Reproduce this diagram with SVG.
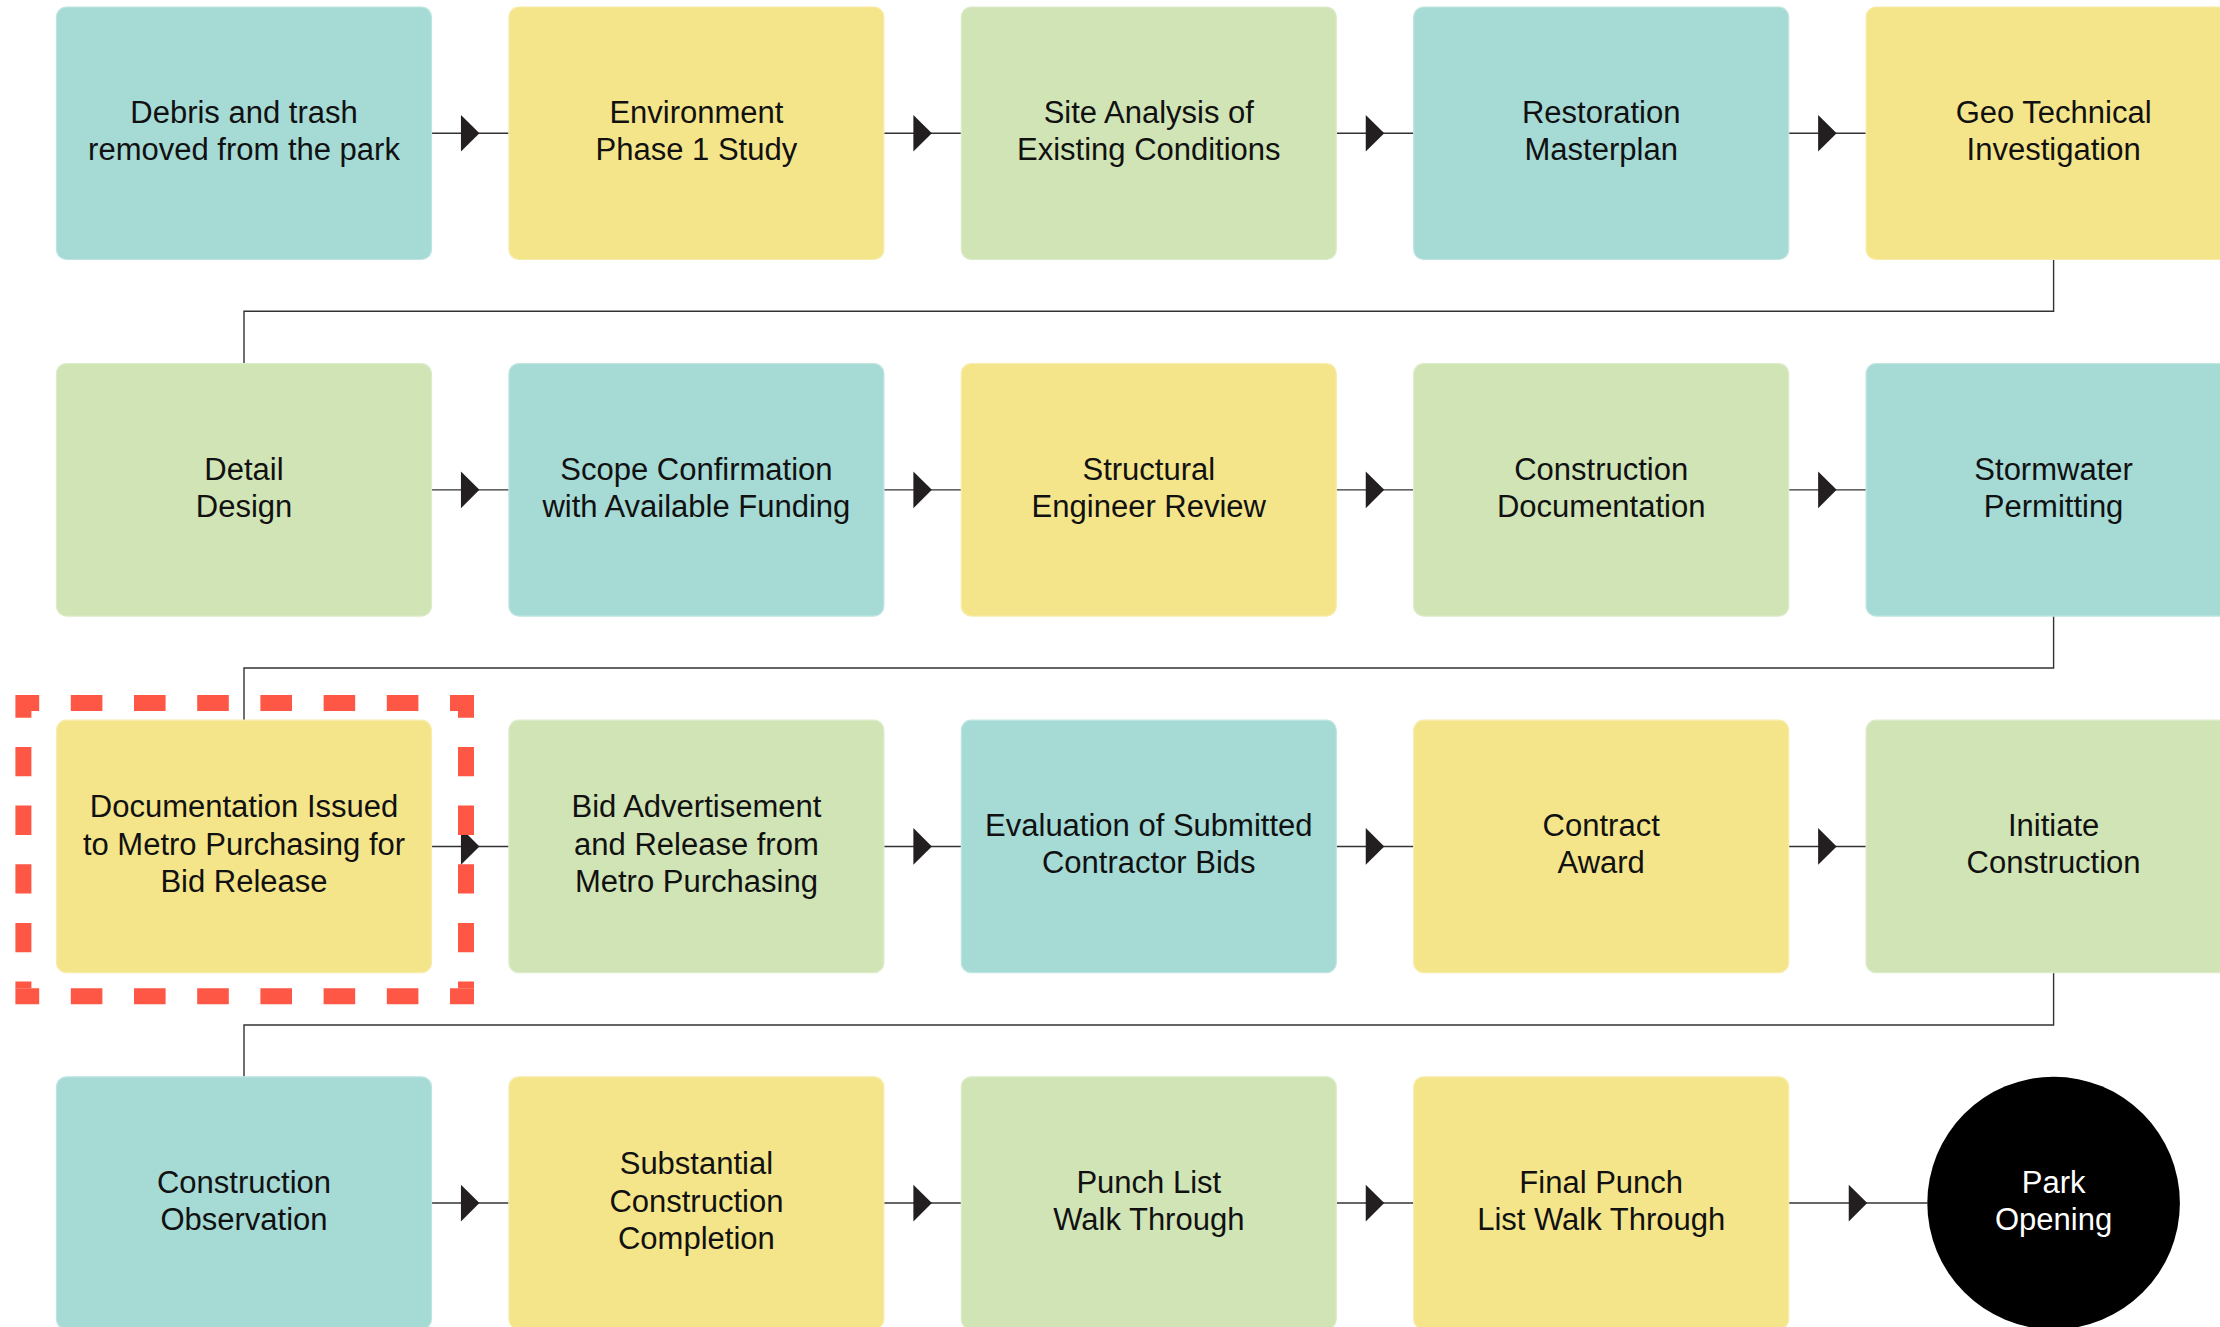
<svg xmlns="http://www.w3.org/2000/svg" width="2220" height="1327" viewBox="0 0 2220 1327">
<style>
.box{stroke-width:1.2}
.teal{fill:#a5dad5;stroke:#bfe5e1}
.yellow{fill:#f4e58a;stroke:#f8ecaa}
.green{fill:#d0e4b6;stroke:#dcebc8}
.lbl{font-family:"Liberation Sans",Arial,sans-serif;font-size:31px;fill:#111;text-anchor:middle}
.wlbl{font-family:"Liberation Sans",Arial,sans-serif;font-size:31px;fill:#fff;text-anchor:middle}
.conn{fill:none;stroke:#333;stroke-width:1.4}
.flow{fill:none;stroke:#333;stroke-width:1.4;marker-mid:url(#ah)}
.hl-h{stroke:#ff5745;stroke-width:16;stroke-dasharray:31.6 31.6;stroke-dashoffset:7.8;fill:none}
.hl-v{stroke:#ff5745;stroke-width:16;stroke-dasharray:29.32 29.32;stroke-dashoffset:22.66;fill:none}
</style>
<defs>
<marker id="ah" markerUnits="userSpaceOnUse" markerWidth="20" markerHeight="38" refX="18.5" refY="18.35" orient="auto" overflow="visible">
<path d="M0,0 L18.5,18.35 L0,36.7 Z" fill="#231f20"/>
</marker>
</defs>
<rect width="2220" height="1327" fill="#fff"/>

<g id="connectors">
<path class="flow" d="M431.5,133.25 L479.45,133.25 L508.9,133.25"/>
<path class="flow" d="M883.9,133.25 L931.85,133.25 L961.3,133.25"/>
<path class="flow" d="M1336.3,133.25 L1384.25,133.25 L1413.7,133.25"/>
<path class="flow" d="M1788.7,133.25 L1836.65,133.25 L1866.1,133.25"/>
<path class="conn" d="M2053.6,259.5 V311.3 H244 V363.6"/>
<path class="flow" d="M431.5,489.85 L479.45,489.85 L508.9,489.85"/>
<path class="flow" d="M883.9,489.85 L931.85,489.85 L961.3,489.85"/>
<path class="flow" d="M1336.3,489.85 L1384.25,489.85 L1413.7,489.85"/>
<path class="flow" d="M1788.7,489.85 L1836.65,489.85 L1866.1,489.85"/>
<path class="conn" d="M2053.6,616.1 V668 H244 V720.2"/>
<path class="flow" d="M431.5,846.45 L479.45,846.45 L508.9,846.45"/>
<path class="flow" d="M883.9,846.45 L931.85,846.45 L961.3,846.45"/>
<path class="flow" d="M1336.3,846.45 L1384.25,846.45 L1413.7,846.45"/>
<path class="flow" d="M1788.7,846.45 L1836.65,846.45 L1866.1,846.45"/>
<path class="conn" d="M2053.6,972.7 V1025 H244 V1076.8"/>
<path class="flow" d="M431.5,1203.05 L479.45,1203.05 L508.9,1203.05"/>
<path class="flow" d="M883.9,1203.05 L931.85,1203.05 L961.3,1203.05"/>
<path class="flow" d="M1336.3,1203.05 L1384.25,1203.05 L1413.7,1203.05"/>
<path class="flow" d="M1788.7,1203.05 L1867.25,1203.05 L1927.3,1203.05"/>
</g>

<g id="n1"><rect class="box teal" x="56.5" y="7" width="375" height="252.5" rx="10"/>
<text class="lbl" x="244" y="123.25">Debris and trash<tspan x="244" dy="36.7">removed from the park</tspan></text></g>
<g id="n2"><rect class="box yellow" x="508.9" y="7" width="375" height="252.5" rx="10"/>
<text class="lbl" x="696.4" y="123.25">Environment<tspan x="696.4" dy="36.7">Phase 1 Study</tspan></text></g>
<g id="n3"><rect class="box green" x="961.3" y="7" width="375" height="252.5" rx="10"/>
<text class="lbl" x="1148.8" y="123.25">Site Analysis of<tspan x="1148.8" dy="36.7">Existing Conditions</tspan></text></g>
<g id="n4"><rect class="box teal" x="1413.7" y="7" width="375" height="252.5" rx="10"/>
<text class="lbl" x="1601.2" y="123.25">Restoration<tspan x="1601.2" dy="36.7">Masterplan</tspan></text></g>
<g id="n5"><rect class="box yellow" x="1866.1" y="7" width="375" height="252.5" rx="10"/>
<text class="lbl" x="2053.6" y="123.25">Geo Technical<tspan x="2053.6" dy="36.7">Investigation</tspan></text></g>

<g id="n6"><rect class="box green" x="56.5" y="363.6" width="375" height="252.5" rx="10"/>
<text class="lbl" x="244" y="479.85">Detail<tspan x="244" dy="36.7">Design</tspan></text></g>
<g id="n7"><rect class="box teal" x="508.9" y="363.6" width="375" height="252.5" rx="10"/>
<text class="lbl" x="696.4" y="479.85">Scope Confirmation<tspan x="696.4" dy="36.7">with Available Funding</tspan></text></g>
<g id="n8"><rect class="box yellow" x="961.3" y="363.6" width="375" height="252.5" rx="10"/>
<text class="lbl" x="1148.8" y="479.85">Structural<tspan x="1148.8" dy="36.7">Engineer Review</tspan></text></g>
<g id="n9"><rect class="box green" x="1413.7" y="363.6" width="375" height="252.5" rx="10"/>
<text class="lbl" x="1601.2" y="479.85">Construction<tspan x="1601.2" dy="36.7">Documentation</tspan></text></g>
<g id="n10"><rect class="box teal" x="1866.1" y="363.6" width="375" height="252.5" rx="10"/>
<text class="lbl" x="2053.6" y="479.85">Stormwater<tspan x="2053.6" dy="36.7">Permitting</tspan></text></g>

<g id="n11"><rect class="box yellow" x="56.5" y="720.2" width="375" height="252.5" rx="10"/>
<text class="lbl" x="244" y="817.45">Documentation Issued<tspan x="244" dy="37.5">to Metro Purchasing for</tspan><tspan x="244" dy="37.5">Bid Release</tspan></text></g>
<g id="n12"><rect class="box green" x="508.9" y="720.2" width="375" height="252.5" rx="10"/>
<text class="lbl" x="696.4" y="817.45">Bid Advertisement<tspan x="696.4" dy="37.5">and Release from</tspan><tspan x="696.4" dy="37.5">Metro Purchasing</tspan></text></g>
<g id="n13"><rect class="box teal" x="961.3" y="720.2" width="375" height="252.5" rx="10"/>
<text class="lbl" x="1148.8" y="836.45">Evaluation of Submitted<tspan x="1148.8" dy="36.7">Contractor Bids</tspan></text></g>
<g id="n14"><rect class="box yellow" x="1413.7" y="720.2" width="375" height="252.5" rx="10"/>
<text class="lbl" x="1601.2" y="836.45">Contract<tspan x="1601.2" dy="36.7">Award</tspan></text></g>
<g id="n15"><rect class="box green" x="1866.1" y="720.2" width="375" height="252.5" rx="10"/>
<text class="lbl" x="2053.6" y="836.45">Initiate<tspan x="2053.6" dy="36.7">Construction</tspan></text></g>

<g id="n16"><rect class="box teal" x="56.5" y="1076.8" width="375" height="252.5" rx="10"/>
<text class="lbl" x="244" y="1193.05">Construction<tspan x="244" dy="36.7">Observation</tspan></text></g>
<g id="n17"><rect class="box yellow" x="508.9" y="1076.8" width="375" height="252.5" rx="10"/>
<text class="lbl" x="696.4" y="1174.05">Substantial<tspan x="696.4" dy="37.5">Construction</tspan><tspan x="696.4" dy="37.5">Completion</tspan></text></g>
<g id="n18"><rect class="box green" x="961.3" y="1076.8" width="375" height="252.5" rx="10"/>
<text class="lbl" x="1148.8" y="1193.05">Punch List<tspan x="1148.8" dy="36.7">Walk Through</tspan></text></g>
<g id="n19"><rect class="box yellow" x="1413.7" y="1076.8" width="375" height="252.5" rx="10"/>
<text class="lbl" x="1601.2" y="1193.05">Final Punch<tspan x="1601.2" dy="36.7">List Walk Through</tspan></text></g>
<g id="n20"><circle cx="2053.6" cy="1203.05" r="126.3" fill="#000"/>
<text class="wlbl" x="2053.6" y="1193.05">Park<tspan x="2053.6" dy="36.7">Opening</tspan></text></g>

<g id="highlight">
<line class="hl-h" x1="15.4" y1="703" x2="474" y2="703"/>
<line class="hl-h" x1="15.4" y1="996.2" x2="474" y2="996.2"/>
<line class="hl-v" x1="23.4" y1="711" x2="23.4" y2="988.2"/>
<line class="hl-v" x1="466" y1="711" x2="466" y2="988.2"/>
</g>
</svg>
